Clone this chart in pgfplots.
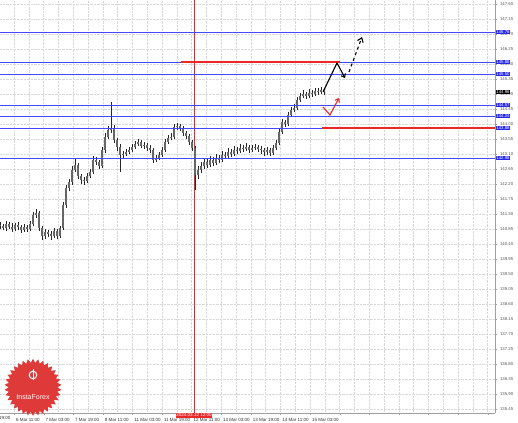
\documentclass[border=0pt]{standalone}
\usepackage{fontspec}
\setmainfont{Liberation Sans}
\usepackage{pgfplots}
\usepackage{pgfplotstable}
\pgfplotsset{compat=1.18}
\usetikzlibrary{shapes.symbols,arrows.meta}
\definecolor{lvl}{RGB}{70,70,255}
\definecolor{lvlbox}{RGB}{40,40,235}
\definecolor{logored}{RGB}{222,58,58}
\definecolor{mtred}{RGB}{235,40,40}

\pgfplotstableread{
x o h l c
0 140.97 141.06 140.85 140.94
3 140.94 141.00 140.82 140.88
6 140.88 141.09 140.79 141.00
9 141.00 141.06 140.85 140.91
12 140.91 141.03 140.76 140.85
15 140.85 141.03 140.79 140.97
18 140.97 141.06 140.82 140.91
21 140.91 140.97 140.73 140.82
24 140.82 141.00 140.76 140.91
27 140.91 140.97 140.76 140.85
30 140.85 141.09 140.79 141.00
33 141.00 141.36 140.94 141.27
36 141.27 141.45 141.18 141.33
39 141.33 141.39 140.79 140.88
42 140.88 140.94 140.52 140.64
45 140.64 140.85 140.55 140.76
48 140.76 140.82 140.61 140.70
51 140.70 140.79 140.52 140.64
54 140.64 140.88 140.58 140.79
57 140.79 140.85 140.55 140.64
60 140.64 140.94 140.58 140.88
63 140.88 141.66 140.82 141.57
66 141.57 142.17 141.48 142.08
69 142.08 142.35 141.99 142.26
72 142.26 142.74 142.17 142.62
75 142.62 142.95 142.56 142.77
78 142.77 142.83 142.35 142.44
81 142.44 142.50 142.20 142.32
84 142.32 142.41 142.17 142.29
87 142.29 142.53 142.23 142.44
90 142.44 142.65 142.38 142.56
93 142.56 143.04 142.50 142.92
96 142.92 143.01 142.77 142.86
99 142.86 142.92 142.65 142.74
102 142.74 143.31 142.68 143.22
105 143.22 143.73 143.13 143.61
108 143.61 143.94 143.55 143.82
111 143.82 144.66 143.73 143.88
114 143.88 143.97 143.43 143.52
117 143.52 143.58 143.19 143.31
120 143.31 143.40 142.56 143.07
123 143.07 143.19 142.98 143.10
126 143.10 143.25 143.04 143.16
129 143.16 143.31 143.10 143.22
132 143.22 143.40 143.16 143.31
135 143.31 143.49 143.25 143.40
138 143.40 143.55 143.34 143.46
141 143.46 143.52 143.28 143.34
144 143.34 143.46 143.25 143.37
147 143.37 143.43 143.19 143.28
150 143.28 143.37 143.13 143.22
153 143.22 143.28 142.83 142.92
156 142.92 143.07 142.86 142.98
159 142.98 143.16 142.92 143.07
162 143.07 143.31 143.01 143.22
165 143.22 143.55 143.16 143.46
168 143.46 143.67 143.40 143.58
171 143.58 143.73 143.52 143.61
174 143.61 144.00 143.55 143.91
177 143.91 144.03 143.82 143.94
180 143.94 144.00 143.79 143.88
183 143.88 143.94 143.64 143.73
186 143.73 143.79 143.55 143.64
189 143.64 143.70 143.37 143.46
192 143.46 143.52 143.19 143.28
195 143.28 143.34 142.02 142.47
198 142.47 142.74 142.35 142.62
201 142.62 142.86 142.53 142.74
204 142.74 142.98 142.65 142.86
207 142.86 142.95 142.68 142.77
210 142.77 143.04 142.71 142.92
213 142.92 143.01 142.74 142.83
216 142.83 143.10 142.77 142.98
219 142.98 143.07 142.83 142.92
222 142.92 143.19 142.86 143.07
225 143.07 143.16 142.95 143.04
228 143.04 143.28 142.98 143.16
231 143.16 143.25 143.01 143.10
234 143.10 143.34 143.04 143.22
237 143.22 143.31 143.10 143.19
240 143.19 143.40 143.13 143.28
243 143.28 143.37 143.16 143.25
246 143.25 143.43 143.19 143.31
249 143.31 143.37 143.13 143.22
252 143.22 143.37 143.16 143.28
255 143.28 143.40 143.22 143.31
258 143.31 143.37 143.16 143.25
261 143.25 143.34 143.10 143.22
264 143.22 143.28 143.04 143.16
267 143.16 143.31 143.07 143.22
270 143.22 143.28 143.04 143.13
273 143.13 143.37 143.07 143.28
276 143.28 143.52 143.22 143.43
279 143.43 143.85 143.37 143.76
282 143.76 144.15 143.70 144.06
285 144.06 144.12 143.91 144.00
288 144.00 144.36 143.94 144.27
291 144.27 144.51 144.21 144.42
294 144.42 144.60 144.36 144.48
297 144.48 144.81 144.42 144.72
300 144.72 144.93 144.66 144.84
303 144.84 145.02 144.78 144.90
306 144.90 144.96 144.75 144.84
309 144.84 145.05 144.78 144.93
312 144.93 145.02 144.81 144.90
315 144.90 145.08 144.84 144.99
318 144.99 145.08 144.87 144.96
321 144.96 145.11 144.90 145.02
324 145.02 145.08 144.87 144.96
}\candles

\begin{document}
\begin{tikzpicture}
\useasboundingbox (0,0) rectangle (518pt,422pt);
\fill[white] (0,0) rectangle (518pt,422pt);
\begin{axis}[
  at={(0pt,9pt)}, anchor=south west,
  scale only axis, width=495pt, height=413pt,
  xmin=0, xmax=495, ymin=135.33, ymax=147.72,
  axis x line*=bottom, axis y line*=right,
  axis line style={draw=gray!75, line width=0.9pt},
  clip=false,
  scaled y ticks=false,
  ytick={135.45,135.90,...,147.61},
  yticklabel style={font=\fontsize{4.3}{5}\selectfont, text=black!65, xshift=-0.5pt,
    /pgf/number format/.cd, fixed, fixed zerofill, precision=2, assume math mode=true},
  xtick={14,43.6,73.2,102.8,132.4,162,191.6,221.2,250.8,280.4,310,339.6,369.2,398.8,428.4,458,487.6},
  xticklabels={6 Mar 11:00,7 Mar 03:00,7 Mar 19:00,8 Mar 11:00,11 Mar 03:00,11 Mar 19:00,12 Mar 11:00,13 Mar 03:00,13 Mar 19:00,14 Mar 11:00,15 Mar 03:00,,,,,,},
  xticklabel style={anchor=north west, font=\fontsize{4.5}{5}\selectfont, text=black!80, xshift=-1.5pt, yshift=0.5pt},
  minor x tick num=1,
  grid=both,
  major grid style={densely dotted, gray!30, line width=0.4pt},
  minor grid style={densely dotted, gray!30, line width=0.4pt},
  tick style={gray!75},
  major tick length=2pt, minor tick length=0pt, tick align=outside,
]
% vertical red line
\addplot[draw=mtred, solid, line width=0.6pt, mark=none] coordinates {(194,135.33) (194,147.72)};
% candles: wicks (low to high)
\addplot[draw=black!85, solid, line width=0.5pt, mark=none,
  quiver={u=0, v=\thisrow{h}-\thisrow{l}}]
  table[x=x, y=l] {\candles};
% candles: bodies (open to close)
\addplot[draw=black!60, solid, line width=1.7pt, mark=none,
  quiver={u=0, v=\thisrow{c}-\thisrow{o}}]
  table[x=x, y=o] {\candles};
% levels
\addplot[draw=lvl, solid, line width=0.7pt, mark=none] coordinates {(0,146.76) (495,146.76)};
\addplot[draw=lvl, solid, line width=0.7pt, mark=none] coordinates {(0,145.86) (495,145.86)};
\addplot[draw=lvl, solid, line width=0.7pt, mark=none] coordinates {(0,145.50) (495,145.50)};
\addplot[draw=lvl, solid, line width=0.7pt, mark=none] coordinates {(0,144.57) (495,144.57)};
\addplot[draw=lvl, solid, line width=0.7pt, mark=none] coordinates {(0,144.24) (495,144.24)};
\addplot[draw=lvl, solid, line width=0.7pt, mark=none] coordinates {(0,143.88) (495,143.88)};
\addplot[draw=lvl, solid, line width=0.7pt, mark=none] coordinates {(0,142.98) (495,142.98)};
% red lines
\addplot[draw=mtred, solid, line width=1.3pt, mark=none] coordinates {(181,145.86) (340,145.86)};
\addplot[draw=mtred, solid, line width=1.3pt, mark=none] coordinates {(322,143.88) (495,143.88)};
% arrows
\addplot[draw=black, solid, line width=1.1pt, mark=none, -{Straight Barb[length=3pt,width=5pt]}] coordinates {(323,144.96) (337,145.83) (345,145.38)};
\addplot[draw=black, line width=1.1pt, mark=none, dashed, -{Straight Barb[length=4pt,width=6pt]}] coordinates {(349,145.56) (362,146.61)};
\addplot[draw=mtred, solid, line width=1.1pt, mark=none, -{Straight Barb[length=3pt,width=5pt]}] coordinates {(323,144.51) (330,144.27) (339,144.78)};
% right-side boxed labels
\foreach \v in {146.76,145.86,145.50,144.57,144.24,143.88,142.98}{
  \edef\tmp{\noexpand\node[fill=lvlbox, text=white, inner sep=0.6pt, anchor=west, font=\noexpand\fontsize{4.3}{5}\noexpand\selectfont] at (axis cs:495.6,\v) {\v};}\tmp
}
\node[fill=black, text=white, inner sep=0.6pt, anchor=west, font=\fontsize{4.3}{5}\selectfont] at (axis cs:495.6,144.96) {144.96};
% first (cut) time label
\node[anchor=north west, font=\fontsize{4.5}{5}\selectfont, text=black!80, inner sep=0.333em] at (axis cs:-17.1,135.33) {5 Mar 19:00};
% x-axis red time box
\node[fill=mtred, text=white, inner sep=0.6pt, anchor=north, font=\fontsize{4.5}{5}\selectfont] at (axis cs:194,135.33) {2024.03.12 12:00};
% logo
\node[starburst, random starburst=0, starburst points=34, starburst point height=4pt,
  fill=logored, draw=none, minimum width=57pt, minimum height=57pt] at (axis cs:33,136.10) {};
\draw[white, line width=1pt] (axis cs:33,136.47) circle (3.8pt);
\draw[white, line width=1pt] (axis cs:33,136.33) -- (axis cs:33,136.64);
\node[text=white, font=\fontsize{7}{7}\selectfont, inner sep=0pt] at (axis cs:33,135.80) {InstaForex};
\end{axis}
\end{tikzpicture}
\end{document}
